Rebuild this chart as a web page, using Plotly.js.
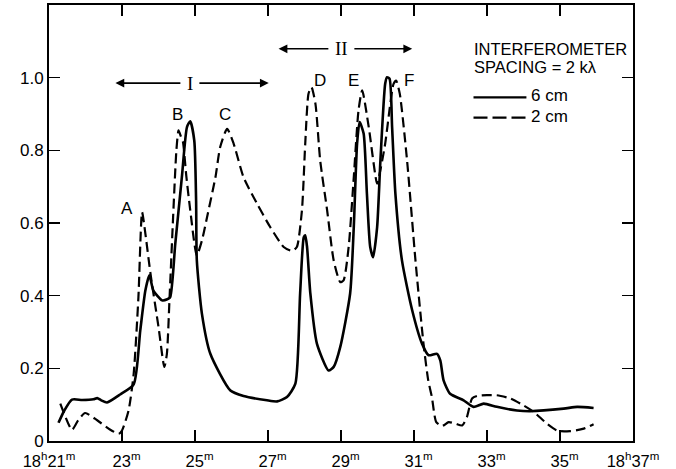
<!DOCTYPE html>
<html>
<head>
<meta charset="utf-8">
<script src="https://cdn.plot.ly/plotly-3.0.1.min.js"></script>
<style>html,body{margin:0;padding:0;background:#fff;}#chart{width:676px;height:469px;}</style>
</head>
<body>
<div id="chart"></div>
<script>
// 6 cm (solid) — time in minutes after 18h, relative amplitude
const time6 = [21.26,21.42,21.63,21.91,22.22,22.32,22.43,22.59,22.95,23.32,23.50,23.64,23.75,23.86,24.10,24.24,24.32,24.46,24.64,24.78,24.87,24.98,25.03,25.05,25.19,25.42,25.97,26.33,26.97,27.25,27.52,27.75,27.88,27.98,28.02,28.07,28.16,28.34,28.66,28.80,28.98,29.25,29.35,29.44,29.51,29.62,29.71,29.80,29.88,29.99,30.08,30.21,30.26,30.33,30.40,30.49,30.67,30.95,31.22,31.40,31.63,31.72,31.81,31.99,32.36,32.63,32.91,33.27,33.82,34.18,35.10,35.47,35.92];
const flux6 = [0.050,0.084,0.114,0.113,0.115,0.118,0.112,0.106,0.128,0.156,0.304,0.414,0.456,0.414,0.387,0.390,0.396,0.543,0.726,0.864,0.880,0.827,0.662,0.497,0.350,0.240,0.139,0.124,0.112,0.109,0.121,0.158,0.406,0.561,0.566,0.534,0.406,0.268,0.194,0.204,0.259,0.406,0.589,0.818,0.878,0.846,0.681,0.534,0.506,0.589,0.772,0.983,1.001,0.997,0.864,0.681,0.497,0.360,0.268,0.236,0.240,0.222,0.167,0.130,0.112,0.094,0.103,0.094,0.084,0.082,0.089,0.094,0.091];
// 2 cm (dashed)
const time2 = [21.31,21.63,21.80,21.99,22.32,22.68,22.91,23.00,23.18,23.32,23.45,23.55,23.64,23.78,24.00,24.16,24.23,24.30,24.40,24.49,24.55,24.62,24.67,24.76,24.87,25.05,25.19,25.33,25.56,25.69,25.88,26.06,26.33,26.70,27.06,27.43,27.66,27.79,27.93,28.02,28.11,28.19,28.30,28.43,28.62,28.80,28.98,29.07,29.21,29.35,29.48,29.58,29.76,29.99,30.06,30.21,30.35,30.44,30.51,30.61,30.81,31.04,31.26,31.39,31.49,31.61,31.77,31.95,32.13,32.32,32.45,32.59,32.73,33.00,33.27,33.64,34.00,34.28,34.64,34.92,35.28,35.65,35.92];
const flux2 = [0.103,0.031,0.057,0.077,0.057,0.031,0.020,0.029,0.084,0.185,0.396,0.630,0.571,0.461,0.314,0.204,0.240,0.387,0.616,0.800,0.855,0.836,0.823,0.731,0.635,0.511,0.552,0.616,0.726,0.809,0.859,0.818,0.726,0.653,0.589,0.534,0.523,0.534,0.635,0.818,0.956,0.974,0.928,0.772,0.635,0.497,0.437,0.442,0.534,0.726,0.910,0.965,0.864,0.708,0.736,0.818,0.928,0.983,0.992,0.956,0.772,0.497,0.268,0.167,0.121,0.052,0.041,0.052,0.048,0.043,0.066,0.117,0.124,0.126,0.126,0.117,0.098,0.080,0.048,0.029,0.027,0.034,0.046];

const xTickVals = [21,23,25,27,29,31,33,35,37];
const xTickText = ['18<sup>h</sup>21<sup>m</sup>','\u00a0\u00a023<sup>m</sup>','\u00a0\u00a025<sup>m</sup>','\u00a0\u00a027<sup>m</sup>','\u00a0\u00a029<sup>m</sup>','\u00a0\u00a031<sup>m</sup>','\u00a0\u00a033<sup>m</sup>','\u00a0\u00a035<sup>m</sup>','18<sup>h</sup>37<sup>m</sup>'];
const yTickVals = [0,0.2,0.4,0.6,0.8,1.0,1.2];
const yTickText = ['0','0.2','0.4','0.6','0.8','1.0',''];

const peakNames = ['A','B','C','D','E','F'];
const peakX = [23.14,24.53,25.83,28.43,29.35,30.85];
const peakY = [0.64,0.90,0.90,0.992,0.992,0.992];

const FONT = 'Liberation Sans, Arial, sans-serif';
const SERIF = 'Liberation Serif, DejaVu Serif, serif';

const traces = [
  {x: time6, y: flux6, mode: 'lines', name: '6 cm',
   line: {color: '#000', width: 2.6, shape: 'spline', smoothing: 0.6}, hoverinfo: 'skip'},
  {x: time2, y: flux2, mode: 'lines', name: '2 cm',
   line: {color: '#000', width: 2.2, dash: '10px,5px', shape: 'spline', smoothing: 0.6}, hoverinfo: 'skip'}
];

const annotations = [];
peakNames.forEach((t, i) => {
  annotations.push({x: peakX[i], y: peakY[i], xref: 'x', yref: 'y', text: t, showarrow: false,
    font: {family: FONT, size: 17, color: '#000'}});
});
function bracket(label, cx, cy, left, right, pad) {
  [left, right].forEach((tip, k) => {
    annotations.push({x: tip, y: cy, ax: cx, ay: cy, xref: 'x', yref: 'y', axref: 'x', ayref: 'y',
      text: label, showarrow: true, arrowhead: 2, arrowsize: 1.1, arrowwidth: 1.6, arrowcolor: '#000',
      startstandoff: pad, standoff: 0,
      font: {family: SERIF, size: 19, color: k === 0 ? '#000' : 'rgba(0,0,0,0)'}});
  });
}
bracket('I', 24.86, 0.985, 22.82, 27.02, 5);
bracket('II', 29.01, 1.0795, 27.29, 30.95, 5);

annotations.push({x: 32.58, y: 1.079, xref: 'x', yref: 'y', xanchor: 'left', yanchor: 'middle',
  text: 'INTERFEROMETER', showarrow: false, font: {family: FONT, size: 16.5, color: '#000'}});
annotations.push({x: 32.58, y: 1.030, xref: 'x', yref: 'y', xanchor: 'left', yanchor: 'middle',
  text: 'SPACING = 2 k\u03bb', showarrow: false, font: {family: FONT, size: 16.5, color: '#000'}});
annotations.push({x: 34.14, y: 0.950, xref: 'x', yref: 'y', xanchor: 'left', yanchor: 'middle',
  text: '6 cm', showarrow: false, font: {family: FONT, size: 17, color: '#000'}});
annotations.push({x: 34.14, y: 0.892, xref: 'x', yref: 'y', xanchor: 'left', yanchor: 'middle',
  text: '2 cm', showarrow: false, font: {family: FONT, size: 17, color: '#000'}});

const shapes = [
  {type: 'line', xref: 'x', yref: 'y', x0: 32.63, x1: 34.08, y0: 0.946, y1: 0.946,
   line: {color: '#000', width: 2.2}},
  {type: 'line', xref: 'x', yref: 'y', x0: 32.63, x1: 34.08, y0: 0.890, y1: 0.890,
   line: {color: '#000', width: 2.2, dash: '14px,5px'}}
];

const layout = {
  width: 676, height: 469,
  margin: {l: 49, r: 43, t: 5, b: 28, pad: 0},
  paper_bgcolor: '#fff', plot_bgcolor: '#fff',
  showlegend: false,
  font: {family: FONT, size: 17, color: '#000'},
  xaxis: {range: [21, 37], tickmode: 'array', tickvals: xTickVals, ticktext: xTickText,
    ticks: 'inside', ticklen: 11, tickwidth: 1.6, tickcolor: '#000',
    showline: true, linewidth: 2, linecolor: '#000', mirror: 'ticks',
    showgrid: false, zeroline: false, automargin: false, ticklabelstandoff: 4,
    tickfont: {family: FONT, size: 16.5, color: '#000'}},
  yaxis: {range: [0, 1.2], tickmode: 'array', tickvals: yTickVals, ticktext: yTickText,
    ticks: 'inside', ticklen: 11, tickwidth: 1.6, tickcolor: '#000',
    showline: true, linewidth: 2, linecolor: '#000', mirror: 'ticks',
    showgrid: false, zeroline: false, automargin: false,
    tickfont: {family: FONT, size: 17, color: '#000'}},
  annotations: annotations,
  shapes: shapes
};

Plotly.newPlot('chart', traces, layout, {staticPlot: true, displayModeBar: false});
</script>
</body>
</html>
